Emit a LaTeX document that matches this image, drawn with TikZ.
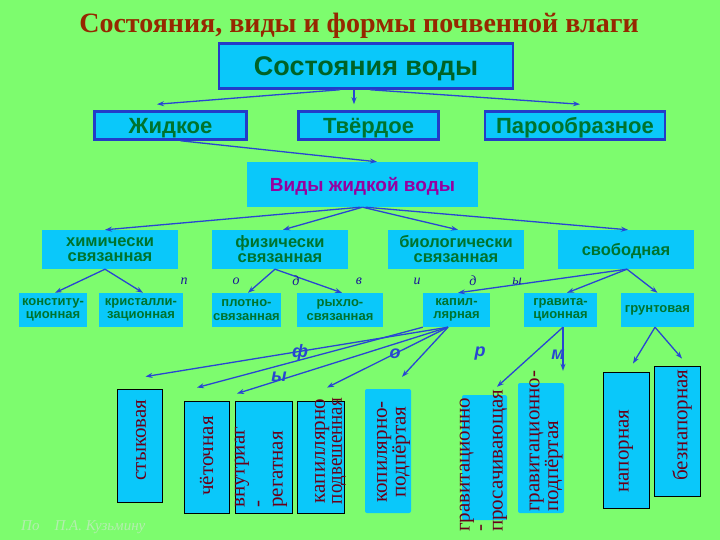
\documentclass[tikz,border=0pt]{standalone}
\usepackage{fontspec}
\setmainfont{Liberation Serif}
\setsansfont{Liberation Sans}
\usetikzlibrary{calc,arrows.meta}
\definecolor{bg}{RGB}{125,252,110}
\definecolor{cy}{RGB}{10,200,250}
\definecolor{bord}{RGB}{35,60,200}
\definecolor{arrc}{RGB}{40,70,210}
\definecolor{gtext}{RGB}{0,115,45}
\definecolor{ttl}{RGB}{150,40,0}
\definecolor{purp}{RGB}{150,0,160}
\definecolor{vtext}{RGB}{105,0,25}
\definecolor{lett}{RGB}{25,25,150}
\definecolor{foot}{RGB}{180,238,175}
\begin{document}
\begin{tikzpicture}[x=1pt,y=-1pt,
  box/.style={fill=cy, inner sep=0pt, draw=none},
  bbox/.style={box, draw=bord, line width=2.5pt},
  vbox/.style={box, draw=black, line width=0.9pt},
  htxt/.style={text=gtext, align=center},
  rtxt/.style={font=\fontsize{21}{17}\selectfont, text=vtext, rotate=90, inner sep=0pt},
  arr/.style={draw=arrc, line width=1.3pt, -{Stealth[length=7pt,width=5pt]}},
  sub/.style={font=\fontsize{14}{14}\selectfont\itshape, text=lett, inner sep=0pt},
  frm/.style={font=\sffamily\fontsize{18}{18}\selectfont\bfseries\itshape, text=arrc, inner sep=0pt}]
\fill[bg] (0,0) rectangle (720,540);
\useasboundingbox (0,0) rectangle (720,540);

% title
\node[font=\fontsize{28}{30}\selectfont\bfseries, text=ttl] (title) at (359,25.5) {Состояния, виды и формы почвенной влаги};

% level 1-2
\node[bbox, minimum width=294, minimum height=45, text depth=0pt, text=gtext!85!black, font=\sffamily\bfseries\fontsize{27}{30}\selectfont] (sv) at (366,66) {Состояния воды};
\tikzset{l2/.style={bbox, minimum height=28, text depth=0pt, text=gtext, font=\sffamily\bfseries\fontsize{22}{24}\selectfont}}
\node[l2, minimum width=152] (zh) at (170.5,125.5) {Жидкое};
\node[l2, minimum width=140] (tv) at (368.5,125.5) {Твёрдое};
\node[l2, minimum width=180] (par) at (575,125.5) {Парообразное};

\node[box, minimum width=231, minimum height=45, text depth=0pt, font=\sffamily\bfseries\fontsize{19}{22}\selectfont, text=purp] (vid) at (362.5,184.5) {Виды жидкой воды};

% level 3
\tikzset{r3/.style={box, minimum width=136, minimum height=39, htxt, font=\sffamily\bfseries\fontsize{16.5}{15}\selectfont}}
\node[r3] (him) at (110,249.5) {химически\\связанная};
\node[r3] (fiz) at (280,249.5) {физически\\связанная};
\node[r3] (bio) at (456,249.5) {биологически\\связанная};
\node[box, minimum width=136, minimum height=39, text depth=0pt, text=gtext, font=\sffamily\bfseries\fontsize{16.5}{15}\selectfont] (svob) at (626,249.5) {свободная};

% level 4
\tikzset{r4/.style={box, minimum height=34, htxt, font=\sffamily\bfseries\fontsize{13}{13.5}\selectfont}}
\node[r4, minimum width=68] (kon) at (53,310) {конститу-\\ционная};
\node[r4, minimum width=84] (kri) at (141,310) {кристалли-\\зационная};
\node[r4, minimum width=69] (plo) at (246.5,310) {плотно-\\связанная};
\node[r4, minimum width=86] (ryh) at (340,310) {рыхло-\\связанная};
\node[r4, minimum width=67] (kap) at (456.5,310) {капил-\\лярная};
\node[r4, minimum width=73] (gra) at (560.5,310) {гравита-\\ционная};
\node[box, minimum height=34, minimum width=73, text=gtext, font=\sffamily\bfseries\fontsize{13}{13.5}\selectfont] (gru) at (657.5,310) {грунтовая};

% level 5 boxes
\node[vbox, minimum width=45, minimum height=113] (sty) at (139.5,445.5) {};
\node[vbox, minimum width=45, minimum height=112] (cht) at (206.5,457) {};
\node[vbox, minimum width=57, minimum height=112] (vnu) at (263.5,457) {};
\node[vbox, minimum width=47, minimum height=112] (kpv) at (320.5,457) {};
\node[box, rounded corners=2pt, minimum width=46, minimum height=124] (kpp) at (388,451) {};
\node[box, rounded corners=2pt, minimum width=45, minimum height=125] (grp) at (484.5,457.5) {};
\node[box, rounded corners=2pt, minimum width=46, minimum height=130] (grd) at (541,448) {};
\node[vbox, minimum width=46, minimum height=136] (nap) at (626,440) {};
\node[vbox, minimum width=46, minimum height=130] (bez) at (677,431) {};

% vertical texts
\node[rtxt] (styT) at (141,440) {стыковая};
\node[rtxt] (chtT) at (206.5,456) {чёточная};
\node[rtxt, font=\fontsize{21}{19}\selectfont, anchor=west, align=left] (vnuT) at (261,508) {внутриаг\\-\\регатная};
\node[rtxt, align=center] (kpvT) at (330.5,451) {капиллярно\\\scalebox{0.9}[1]{подвешенная}};
\node[rtxt, align=center] (kppT) at (393.5,452) {копилярно-\\подпёртая};
\node[rtxt, font=\fontsize{21}{16.5}\selectfont, anchor=west, align=left] (grpT) at (483.5,532) {гравитационно\\-\\просачивающая};
\node[rtxt, anchor=west, align=left] (grdT) at (546,512) {гравитационно-\\подпёртая};
\node[rtxt] (napT) at (626,451) {напорная};
\node[rtxt] (bezT) at (682,425) {безнапорная};

% arrows
\draw[arr] ($(sv.south)+(-26,0)$) -- ($(zh.north)+(-13.5,-6)$);
\draw[arr] ($(sv.south)+(-12,0)$) -- ($(tv.north)+(-14.5,-6)$);
\draw[arr] ($(sv.south)+(4,0)$) -- ($(par.north)+(5,-6)$);
\draw[arr] ($(zh.south)+(10,0)$) -- ($(vid.north)+(14.5,0)$);
\draw[arr] ($(vid.south)+(-2,0)$) -- ($(him.north)+(-5,0)$);
\draw[arr] (vid.south) -- ($(fiz.north)+(3,0)$);
\draw[arr] (vid.south) -- ($(bio.north)+(2,0)$);
\draw[arr] ($(vid.south)+(3,0)$) -- ($(svob.north)+(2,0)$);
\draw[arr] ($(him.south)+(-5,0)$) -- ($(kon.north)+(2,0)$);
\draw[arr] ($(him.south)+(-5,0)$) -- ($(kri.north)+(2,0)$);
\draw[arr] ($(fiz.south)+(-5,0)$) -- ($(plo.north)+(1.5,0)$);
\draw[arr] ($(fiz.south)+(-5,0)$) -- ($(ryh.north)+(2,0)$);
\draw[arr] ($(svob.south)+(1,0)$) -- ($(kap.north)+(1.5,0)$);
\draw[arr] ($(svob.south)+(1,0)$) -- ($(gra.north)+(6.5,0)$);
\draw[arr] ($(svob.south)+(1,0)$) -- (gru.north);
\draw[arr] ($(kap.south)+(-8.5,0)$) -- ($(sty.north)+(6,-12)$);
\draw[arr] (kap.south west) -- ($(cht.north)+(-9.5,-13)$);
\draw[arr] ($(kap.south)+(-8.5,0)$) -- ($(vnu.north)+(-26.5,-7)$);
\draw[arr] ($(kap.south)+(-8.5,0)$) -- ($(kpv.north)+(6.5,-13)$);
\draw[arr] ($(kap.south)+(-8.5,0)$) -- ($(kpp.north)+(14,-12)$);
\draw[arr] ($(gra.south)+(2.5,0)$) -- ($(grp.north)+(12.5,-8)$);
\draw[arr] ($(gra.south)+(2.5,0)$) -- ($(grd.north)+(22,-12)$);
\draw[arr] ($(gru.south)+(-2.5,0)$) -- ($(nap.north)+(7,-8)$);
\draw[arr] ($(gru.south)+(-2.5,0)$) -- ($(bez.north)+(5,-7)$);

% letters "подвиды"
\node[sub] (p1) at (184,281) {п};
\node[sub] (p2) at (236,281) {о};
\node[sub] (p3) at (296,281) {д};
\node[sub] (p4) at (359,281) {в};
\node[sub] (p5) at (417,281) {и};
\node[sub] (p6) at (473,281) {д};
\node[sub] (p7) at (517,281) {ы};

% letters "формы"
\node[frm] (f1) at (300,353) {ф};
\node[frm] (f2) at (395,354) {о};
\node[frm] (f3) at (480,354) {р};
\node[frm] (f4) at (558,355) {м};
\node[frm] (f5) at (279,377) {ы};

% footnote
\node[font=\fontsize{15}{15}\selectfont\itshape, text=foot, anchor=west, inner sep=0pt] (foot) at (21,527) {По\hspace{15pt}П.А. Кузьмину};
\end{tikzpicture}
\end{document}
